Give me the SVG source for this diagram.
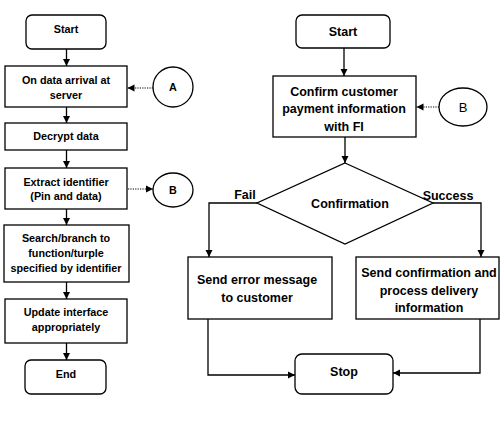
<svg xmlns="http://www.w3.org/2000/svg" width="500" height="428" viewBox="0 0 500 428">
<style>
.b{fill:#fff;stroke:#000;stroke-width:1.3}
.c{fill:none;stroke:#000;stroke-width:1.3}
.d{fill:none;stroke:#000;stroke-width:1.2;stroke-dasharray:1.2 1.2}
.s{font-family:"Liberation Sans",Arial,sans-serif;font-weight:bold;font-size:10.8px;text-anchor:middle;fill:#000}
.l{font-family:"Liberation Sans",Arial,sans-serif;font-weight:bold;font-size:12.5px;text-anchor:middle;fill:#000}
.n{font-family:"Liberation Sans",Arial,sans-serif;font-size:13px;text-anchor:middle;fill:#000}
</style>
<defs>
<marker id="ar" markerWidth="8" markerHeight="8" refX="7" refY="4" orient="auto" markerUnits="userSpaceOnUse">
<path d="M0,0.5 L7,4 L0,7.5 Z" fill="#000"/>
</marker>
</defs>
<g id="l-start"><rect class="b" x="26" y="15" width="80" height="34" rx="6"/><text class="s" x="66" y="33">Start</text></g>
<g id="l-arrival"><rect class="b" x="5" y="66" width="122" height="41"/><text class="s" x="66" y="84">On data arrival at</text><text class="s" x="66" y="99">server</text></g>
<g id="l-A"><circle class="b" cx="173" cy="87" r="20"/><text class="s" x="173" y="91">A</text></g>
<g id="l-decrypt"><rect class="b" x="5" y="123" width="122" height="27"/><text class="s" x="66" y="140">Decrypt data</text></g>
<g id="l-extract"><rect class="b" x="5" y="168" width="122" height="41"/><text class="s" x="66" y="186">Extract identifier</text><text class="s" x="66" y="200">(Pin and data)</text></g>
<g id="l-B"><ellipse class="b" cx="173" cy="190" rx="20" ry="17"/><text class="s" x="173" y="194">B</text></g>
<g id="l-search"><rect class="b" x="4" y="225" width="125" height="57"/><text class="s" x="66" y="242">Search/branch to</text><text class="s" x="66" y="257">function/turple</text><text class="s" x="66" y="272">specified by identifier</text></g>
<g id="l-update"><rect class="b" x="5" y="299" width="122" height="44"/><text class="s" x="66" y="316">Update interface</text><text class="s" x="66" y="331">appropriately</text></g>
<g id="l-end"><rect class="b" x="25" y="360" width="81" height="34" rx="6"/><text class="s" x="66" y="378">End</text></g>

<g id="r-start"><rect class="b" x="296" y="15" width="94" height="33" rx="6"/><text class="l" x="343" y="36">Start</text></g>
<g id="r-confirm"><rect class="b" x="273" y="76" width="143" height="61"/><text class="l" x="344" y="96">Confirm customer</text><text class="l" x="344" y="113">payment information</text><text class="l" x="344" y="131">with FI</text></g>
<g id="r-B"><ellipse class="b" cx="463" cy="107" rx="24" ry="19"/><text class="n" x="463" y="112">B</text></g>
<g id="r-decision"><polygon class="b" points="345,163 433,203 345,244 257,203"/><text class="l" x="350" y="208">Confirmation</text></g>
<g id="r-error"><rect class="b" x="188" y="257" width="144" height="62"/><text class="l" x="257" y="284">Send error message</text><text class="l" x="257" y="302">to customer</text></g>
<g id="r-success"><rect class="b" x="356" y="257" width="143" height="62"/><text class="l" x="429" y="277">Send confirmation and</text><text class="l" x="429" y="295">process delivery</text><text class="l" x="429" y="312">information</text></g>
<g id="r-stop"><rect class="b" x="295" y="354" width="98" height="40" rx="7"/><text class="l" x="344" y="376">Stop</text></g>

<g id="connectors">
<line class="c" x1="66.5" y1="49" x2="66.5" y2="66" marker-end="url(#ar)"/>
<line class="c" x1="66.5" y1="107" x2="66.5" y2="123" marker-end="url(#ar)"/>
<line class="c" x1="66.5" y1="150" x2="66.5" y2="168" marker-end="url(#ar)"/>
<line class="c" x1="66.5" y1="209" x2="66.5" y2="225" marker-end="url(#ar)"/>
<line class="c" x1="66.5" y1="282" x2="66.5" y2="299" marker-end="url(#ar)"/>
<line class="c" x1="66.5" y1="343" x2="66.5" y2="360" marker-end="url(#ar)"/>
<line class="d" x1="153" y1="88" x2="127.5" y2="88" marker-end="url(#ar)"/>
<line class="d" x1="128" y1="189" x2="153" y2="189" marker-end="url(#ar)"/>
<line class="c" x1="344" y1="48" x2="344" y2="76" marker-end="url(#ar)"/>
<line class="d" x1="439" y1="107" x2="416.5" y2="107" marker-end="url(#ar)"/>
<line class="c" x1="345" y1="137" x2="345" y2="163" marker-end="url(#ar)"/>
<polyline class="c" points="257,203 209,203 209,257" marker-end="url(#ar)"/>
<polyline class="c" points="433,203 481,203 481,257" marker-end="url(#ar)"/>
<polyline class="c" points="208,319 208,375 295,375" marker-end="url(#ar)"/>
<polyline class="c" points="480,319 480,373 393,373" marker-end="url(#ar)"/>
<text class="l" x="245" y="199">Fail</text>
<text class="l" x="448" y="200">Success</text>
</g>
</svg>
